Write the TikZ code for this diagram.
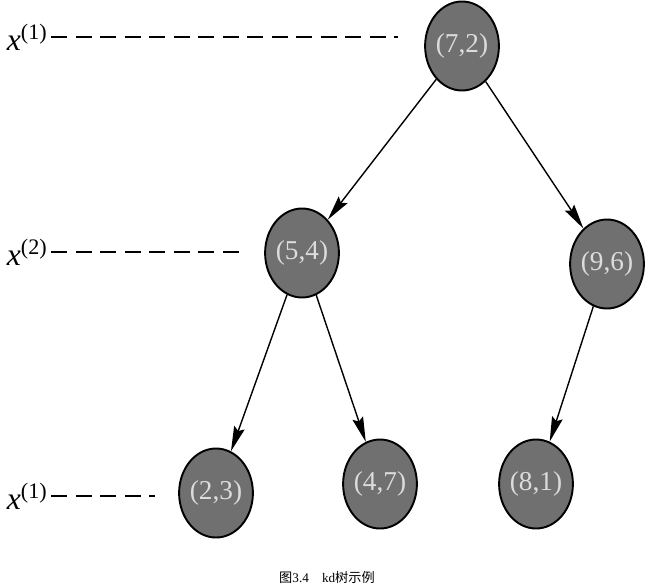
\documentclass[tikz,border=0pt]{standalone}
\usepackage{fontspec}
\setmainfont{Liberation Serif}
\newfontfamily\cjk{Noto Sans CJK SC}
\usetikzlibrary{arrows.meta,shapes.geometric}
\definecolor{kdgray}{RGB}{112,112,112}
\definecolor{kdtext}{RGB}{220,220,220}

\begin{document}
\begin{tikzpicture}[
  kdnode/.style={ellipse,draw=black,line width=1.1pt,fill=kdgray,text=kdtext,minimum width=1.44cm,minimum height=1.78cm,inner sep=0pt,font=\fontsize{15.5}{18}\selectfont},
  lvl/.style={anchor=west,inner sep=2pt,font=\fontsize{18}{21}\selectfont},
  split/.style={dashed,dash pattern=on 0.32cm off 0.17cm,line width=1.1pt},
  arr/.style={-{Stealth[length=0.5cm,width=0.22cm,inset=0.07cm]},line width=0.8pt}
]
\useasboundingbox (0,0) rectangle (13,-11.72);

% Tree
\node[kdnode] (n72) at (9.24,-0.92) {(7,2)};
\node[kdnode] (n54) at (6.04,-5.06) {(5,4)};
\node[kdnode] (n96) at (12.14,-5.28) {(9,6)};
\node[kdnode] (n23) at (4.32,-9.86) {(2,3)};
\node[kdnode] (n47) at (7.60,-9.68) {(4,7)};
\node[kdnode] (n81) at (10.72,-9.68) {(8,1)};
\draw[arr] (n72) -- (n54);
\draw[arr] (n72) -- (n96);
\draw[arr] (n54) -- (n23);
\draw[arr] (n54) -- (n47);
\draw[arr] (n96) -- (n81);

% Split dimensions
\node[lvl] (l1) at (0.06,-0.74) {\textit{x}\textsuperscript{(1)}};
\coordinate (e1) at (7.96,-0.74);
\draw[split] (l1) -- (e1);
\node[lvl] (l2) at (0.06,-5.04) {\textit{x}\textsuperscript{(2)}};
\coordinate (e2) at (4.80,-5.04);
\draw[split] (l2) -- (e2);
\node[lvl] (l3) at (0.06,-9.92) {\textit{x}\textsuperscript{(1)}};
\coordinate (e3) at (3.10,-9.92);
\draw[split] (l3) -- (e3);

% Caption
\node[font=\fontsize{7.5}{9}\selectfont] (cap) at (6.54,-11.54) {{\cjk 图}3.4\quad kd{\cjk 树示例}};
\end{tikzpicture}
\end{document}
